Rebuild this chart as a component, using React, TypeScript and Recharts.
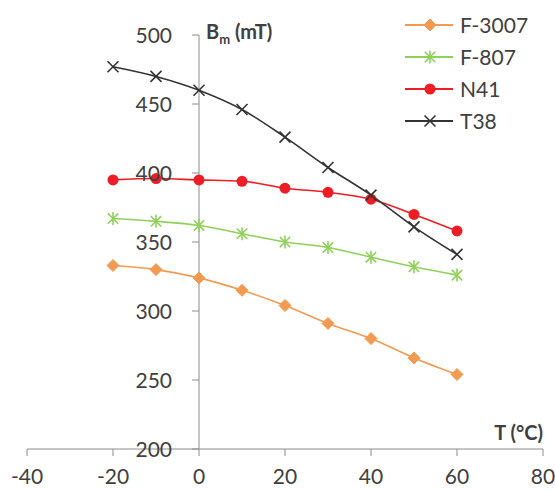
import { LineChart, Line, XAxis, YAxis, ReferenceLine } from "recharts"

// temperature (°C) and Bm (mT)
const temps = [-20, -10, 0, 10, 20, 30, 40, 50, 60]
const f3007 = [333, 330, 324, 315, 304, 291, 280, 266, 254]
const f807 = [367, 365, 362, 356, 350, 346, 339, 332, 326]
const n41 = [395, 396, 395, 394, 389, 386, 381, 370, 358]
const t38 = [477, 470, 460, 446, 426, 404, 384, 361, 341]

const xTicks = [-40, -20, 0, 20, 40, 60, 80]
const yTicks = [200, 250, 300, 350, 400, 450, 500]

const W = 555
const H = 490
const margin = { top: 35, right: 12, left: 26, bottom: 0 }
const X_MIN = -40
const X_MAX = 80
const FONT = "Lato, 'Open Sans', sans-serif"
const TEXT = "#404040"
const AXIS = "#8c8c8c"

// pixel x of the vertical axis (T = 0)
const zeroX = margin.left + 1 + ((0 - X_MIN) / (X_MAX - X_MIN)) * (W - margin.left - 1 - margin.right)

const data = temps.map((t, i) => ({
  t,
  f3007: f3007[i],
  f807: f807[i],
  n41: n41[i],
  t38: t38[i],
}))

type Shape = "diamond" | "star" | "circle" | "cross"

function Marker({ cx, cy, shape, color }: { cx: number; cy: number; shape: Shape; color: string }) {
  if (cx == null || cy == null) return null
  if (shape === "diamond") {
    const r = 6
    return (
      <polygon
        points={`${cx},${cy - r} ${cx + r},${cy} ${cx},${cy + r} ${cx - r},${cy}`}
        fill={color}
        stroke={color}
      />
    )
  }
  if (shape === "circle") {
    return <circle cx={cx} cy={cy} r={5.5} fill={color} stroke="none" />
  }
  if (shape === "star") {
    const r = 6.5
    return (
      <g stroke={color} strokeWidth={1.6}>
        <line x1={cx} y1={cy - r} x2={cx} y2={cy + r} />
        <line x1={cx - r * 0.8} y1={cy - r * 0.8} x2={cx + r * 0.8} y2={cy + r * 0.8} />
        <line x1={cx - r * 0.8} y1={cy + r * 0.8} x2={cx + r * 0.8} y2={cy - r * 0.8} />
      </g>
    )
  }
  const r = 5.5
  return (
    <g stroke={color} strokeWidth={1.6}>
      <line x1={cx - r} y1={cy - r} x2={cx + r} y2={cy + r} />
      <line x1={cx - r} y1={cy + r} x2={cx + r} y2={cy - r} />
    </g>
  )
}

const series: { key: string; name: string; color: string; shape: Shape }[] = [
  { key: "f3007", name: "F-3007", color: "#f29a52", shape: "diamond" },
  { key: "f807", name: "F-807", color: "#8fd05a", shape: "star" },
  { key: "n41", name: "N41", color: "#ee1c25", shape: "circle" },
  { key: "t38", name: "T38", color: "#333333", shape: "cross" },
]

const renderYTick = (props: any) => {
  const { y, payload } = props
  return (
    <g key={`yt-${payload.value}`}>
      <line x1={zeroX - 7} y1={y} x2={zeroX} y2={y} stroke={AXIS} />
      <text
        x={zeroX - 27}
        y={y}
        dy="0.36em"
        textAnchor="end"
        fontSize={21}
        fontFamily={FONT}
        fill={TEXT}
      >
        {payload.value}
      </text>
    </g>
  )
}

function BmLabel(props: any) {
  const { viewBox } = props
  return (
    <text x={viewBox.x + 7} y={viewBox.y + 4} fontSize={20} fontWeight="bold" fontFamily={FONT} fill={TEXT}>
      B
      <tspan fontSize={13} dy={5}>m</tspan>
      <tspan dy={-5}> (mT)</tspan>
    </text>
  )
}

function TLabel(props: any) {
  const { viewBox } = props
  return (
    <text
      x={viewBox.x + viewBox.width}
      y={viewBox.y - 9}
      textAnchor="end"
      fontSize={20}
      fontWeight="bold"
      fontFamily={FONT}
      fill={TEXT}
    >
      T (°C)
    </text>
  )
}

function ChartLegend() {
  return (
    <svg width={150} height={140} style={{ position: "absolute", left: 400, top: 8 }}>
      {series.map((s, i) => {
        const y = 17 + i * 32
        return (
          <g key={s.key}>
            <line x1={5} y1={y} x2={53} y2={y} stroke={s.color} strokeWidth={2} />
            <Marker cx={30} cy={y} shape={s.shape} color={s.color} />
            <text x={60} y={y} dy="0.36em" fontSize={21} fontFamily={FONT} fill={TEXT}>
              {s.name}
            </text>
          </g>
        )
      })}
    </svg>
  )
}

export default function App() {
  return (
    <div style={{ position: "fixed", left: 0, top: 0, width: W, height: H, background: "#fff" }}>
      <LineChart width={W} height={H} data={data} margin={margin}>
        <XAxis
          dataKey="t"
          type="number"
          domain={[X_MIN, X_MAX]}
          ticks={xTicks}
          height={41}
          tickSize={7}
          tickMargin={13}
          stroke={AXIS}
          tick={{ fontSize: 21, fontFamily: FONT, fill: TEXT }}
          label={<TLabel />}
        />
        <YAxis
          type="number"
          domain={[200, 500]}
          ticks={yTicks}
          width={1}
          axisLine={false}
          tickLine={false}
          tick={renderYTick}
        />
        <ReferenceLine x={0} stroke={AXIS} strokeWidth={1} label={<BmLabel />} />
        {series.map((s) => (
          <Line
            key={s.key}
            dataKey={s.key}
            name={s.name}
            type="monotone"
            stroke={s.color}
            strokeWidth={1.6}
            dot={(p: any) => <Marker key={`${s.key}-${p.index}`} cx={p.cx} cy={p.cy} shape={s.shape} color={s.color} />}
            activeDot={false}
            isAnimationActive={false}
          />
        ))}
      </LineChart>
      <ChartLegend />
    </div>
  )
}
